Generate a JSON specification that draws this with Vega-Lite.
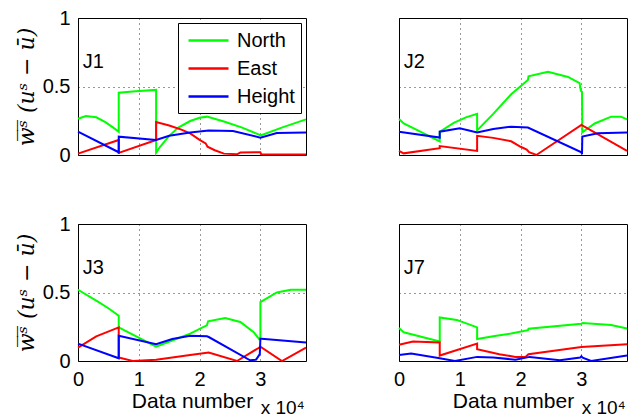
{
"$schema": "https://vega.github.io/schema/vega-lite/v6.json",
"autosize": {"type": "pad"},
"padding": {"left": 14, "top": 7, "right": 0, "bottom": 0},
"background": "white",
"config": {
  "font": "Liberation Sans",
  "view": {"stroke": "black", "strokeWidth": 1},
  "axis": {"domain": false, "ticks": false, "labelFontSize": 20, "labelColor": "black", "labelPadding": 8, "labelFlush": false, "grid": true, "gridDash": [1, 4], "gridColor": "black", "gridOpacity": 0.8, "gridWidth": 1, "titleFontSize": 21, "titleFontWeight": "normal", "titleColor": "black"},
  "text": {"font": "Liberation Sans", "fontSize": 20, "color": "black"}
},
"data": {"values": [
{"p":"J1","s":"North","i":0,"x":0,"y":0.265},{"p":"J1","s":"North","i":1,"x":1300,"y":0.285},{"p":"J1","s":"North","i":2,"x":3000,"y":0.275},{"p":"J1","s":"North","i":3,"x":4500,"y":0.24},{"p":"J1","s":"North","i":4,"x":5800,"y":0.2},{"p":"J1","s":"North","i":5,"x":6700,"y":0.17},{"p":"J1","s":"North","i":6,"x":6700,"y":0.455},{"p":"J1","s":"North","i":7,"x":9500,"y":0.465},{"p":"J1","s":"North","i":8,"x":12850,"y":0.475},{"p":"J1","s":"North","i":9,"x":12850,"y":0.017},{"p":"J1","s":"North","i":10,"x":13500,"y":0.06},{"p":"J1","s":"North","i":11,"x":15000,"y":0.14},{"p":"J1","s":"North","i":12,"x":16500,"y":0.2},{"p":"J1","s":"North","i":13,"x":18450,"y":0.248},{"p":"J1","s":"North","i":14,"x":20000,"y":0.272},{"p":"J1","s":"North","i":15,"x":21200,"y":0.28},{"p":"J1","s":"North","i":16,"x":24000,"y":0.245},{"p":"J1","s":"North","i":17,"x":27000,"y":0.2},{"p":"J1","s":"North","i":18,"x":30000,"y":0.145},{"p":"J1","s":"North","i":19,"x":30150,"y":0.145},{"p":"J1","s":"North","i":20,"x":33500,"y":0.2},{"p":"J1","s":"North","i":21,"x":37500,"y":0.26},
{"p":"J1","s":"East","i":0,"x":0,"y":0.01},{"p":"J1","s":"East","i":1,"x":6700,"y":0.11},{"p":"J1","s":"East","i":2,"x":6700,"y":0.015},{"p":"J1","s":"East","i":3,"x":12850,"y":0.11},{"p":"J1","s":"East","i":4,"x":12850,"y":0.24},{"p":"J1","s":"East","i":5,"x":15000,"y":0.215},{"p":"J1","s":"East","i":6,"x":17000,"y":0.185},{"p":"J1","s":"East","i":7,"x":18450,"y":0.158},{"p":"J1","s":"East","i":8,"x":20000,"y":0.11},{"p":"J1","s":"East","i":9,"x":21000,"y":0.085},{"p":"J1","s":"East","i":10,"x":21300,"y":0.06},{"p":"J1","s":"East","i":11,"x":22500,"y":0.035},{"p":"J1","s":"East","i":12,"x":24000,"y":0.01},{"p":"J1","s":"East","i":13,"x":26150,"y":0.005},{"p":"J1","s":"East","i":14,"x":26700,"y":0.018},{"p":"J1","s":"East","i":15,"x":30000,"y":0.02},{"p":"J1","s":"East","i":16,"x":30150,"y":0.005},{"p":"J1","s":"East","i":17,"x":37500,"y":0.003},
{"p":"J1","s":"Height","i":0,"x":0,"y":0.17},{"p":"J1","s":"Height","i":1,"x":6700,"y":0.02},{"p":"J1","s":"Height","i":2,"x":6700,"y":0.134},{"p":"J1","s":"Height","i":3,"x":12850,"y":0.11},{"p":"J1","s":"Height","i":4,"x":15000,"y":0.14},{"p":"J1","s":"Height","i":5,"x":18450,"y":0.165},{"p":"J1","s":"Height","i":6,"x":21500,"y":0.178},{"p":"J1","s":"Height","i":7,"x":25500,"y":0.175},{"p":"J1","s":"Height","i":8,"x":30000,"y":0.127},{"p":"J1","s":"Height","i":9,"x":32700,"y":0.16},{"p":"J1","s":"Height","i":10,"x":37500,"y":0.165},
{"p":"J2","s":"North","i":0,"x":0,"y":0.263},{"p":"J2","s":"North","i":1,"x":770,"y":0.23},{"p":"J2","s":"North","i":2,"x":3500,"y":0.17},{"p":"J2","s":"North","i":3,"x":6700,"y":0.1},{"p":"J2","s":"North","i":4,"x":6700,"y":0.17},{"p":"J2","s":"North","i":5,"x":9000,"y":0.235},{"p":"J2","s":"North","i":6,"x":11000,"y":0.275},{"p":"J2","s":"North","i":7,"x":12850,"y":0.3},{"p":"J2","s":"North","i":8,"x":12850,"y":0.18},{"p":"J2","s":"North","i":9,"x":15500,"y":0.3},{"p":"J2","s":"North","i":10,"x":18450,"y":0.443},{"p":"J2","s":"North","i":11,"x":21200,"y":0.547},{"p":"J2","s":"North","i":12,"x":21300,"y":0.575},{"p":"J2","s":"North","i":13,"x":24500,"y":0.608},{"p":"J2","s":"North","i":14,"x":27800,"y":0.57},{"p":"J2","s":"North","i":15,"x":29700,"y":0.525},{"p":"J2","s":"North","i":16,"x":29900,"y":0.47},{"p":"J2","s":"North","i":17,"x":30100,"y":0.46},{"p":"J2","s":"North","i":18,"x":30150,"y":0.165},{"p":"J2","s":"North","i":19,"x":32200,"y":0.23},{"p":"J2","s":"North","i":20,"x":34900,"y":0.28},{"p":"J2","s":"North","i":21,"x":36500,"y":0.28},{"p":"J2","s":"North","i":22,"x":37500,"y":0.26},
{"p":"J2","s":"East","i":0,"x":0,"y":0.03},{"p":"J2","s":"East","i":1,"x":770,"y":0.012},{"p":"J2","s":"East","i":2,"x":6700,"y":0.05},{"p":"J2","s":"East","i":3,"x":6700,"y":0.065},{"p":"J2","s":"East","i":4,"x":12850,"y":0.03},{"p":"J2","s":"East","i":5,"x":12850,"y":0.14},{"p":"J2","s":"East","i":6,"x":15500,"y":0.125},{"p":"J2","s":"East","i":7,"x":18450,"y":0.1},{"p":"J2","s":"East","i":8,"x":20000,"y":0.06},{"p":"J2","s":"East","i":9,"x":21000,"y":0.04},{"p":"J2","s":"East","i":10,"x":21400,"y":0.02},{"p":"J2","s":"East","i":11,"x":22600,"y":0.0},{"p":"J2","s":"East","i":12,"x":30000,"y":0.22},{"p":"J2","s":"East","i":13,"x":37500,"y":0.03},
{"p":"J2","s":"Height","i":0,"x":0,"y":0.17},{"p":"J2","s":"Height","i":1,"x":6700,"y":0.127},{"p":"J2","s":"Height","i":2,"x":6700,"y":0.17},{"p":"J2","s":"Height","i":3,"x":10000,"y":0.195},{"p":"J2","s":"Height","i":4,"x":12850,"y":0.165},{"p":"J2","s":"Height","i":5,"x":15500,"y":0.19},{"p":"J2","s":"Height","i":6,"x":18450,"y":0.207},{"p":"J2","s":"Height","i":7,"x":21200,"y":0.2},{"p":"J2","s":"Height","i":8,"x":30000,"y":0.02},{"p":"J2","s":"Height","i":9,"x":30100,"y":0.005},{"p":"J2","s":"Height","i":10,"x":30150,"y":0.134},{"p":"J2","s":"Height","i":11,"x":32700,"y":0.158},{"p":"J2","s":"Height","i":12,"x":37500,"y":0.165},
{"p":"J3","s":"North","i":0,"x":0,"y":0.52},{"p":"J3","s":"North","i":1,"x":3000,"y":0.44},{"p":"J3","s":"North","i":2,"x":5000,"y":0.385},{"p":"J3","s":"North","i":3,"x":6700,"y":0.33},{"p":"J3","s":"North","i":4,"x":6700,"y":0.245},{"p":"J3","s":"North","i":5,"x":12850,"y":0.105},{"p":"J3","s":"North","i":6,"x":15500,"y":0.15},{"p":"J3","s":"North","i":7,"x":18450,"y":0.2},{"p":"J3","s":"North","i":8,"x":20500,"y":0.245},{"p":"J3","s":"North","i":9,"x":21200,"y":0.26},{"p":"J3","s":"North","i":10,"x":21400,"y":0.29},{"p":"J3","s":"North","i":11,"x":24200,"y":0.314},{"p":"J3","s":"North","i":12,"x":26700,"y":0.285},{"p":"J3","s":"North","i":13,"x":28900,"y":0.21},{"p":"J3","s":"North","i":14,"x":29800,"y":0.16},{"p":"J3","s":"North","i":15,"x":30000,"y":0.17},{"p":"J3","s":"North","i":16,"x":30000,"y":0.43},{"p":"J3","s":"North","i":17,"x":32700,"y":0.5},{"p":"J3","s":"North","i":18,"x":35000,"y":0.52},{"p":"J3","s":"North","i":19,"x":37500,"y":0.52},
{"p":"J3","s":"East","i":0,"x":0,"y":0.098},{"p":"J3","s":"East","i":1,"x":3000,"y":0.18},{"p":"J3","s":"East","i":2,"x":6700,"y":0.245},{"p":"J3","s":"East","i":3,"x":6700,"y":0.025},{"p":"J3","s":"East","i":4,"x":9000,"y":0.0},{"p":"J3","s":"East","i":5,"x":12850,"y":0.01},{"p":"J3","s":"East","i":6,"x":18450,"y":0.044},{"p":"J3","s":"East","i":7,"x":21500,"y":0.062},{"p":"J3","s":"East","i":8,"x":26150,"y":0.0},{"p":"J3","s":"East","i":9,"x":29700,"y":0.095},{"p":"J3","s":"East","i":10,"x":30000,"y":0.105},{"p":"J3","s":"East","i":11,"x":33550,"y":0.0},{"p":"J3","s":"East","i":12,"x":37500,"y":0.098},
{"p":"J3","s":"Height","i":0,"x":0,"y":0.127},{"p":"J3","s":"Height","i":1,"x":6700,"y":0.02},{"p":"J3","s":"Height","i":2,"x":6700,"y":0.184},{"p":"J3","s":"Height","i":3,"x":12850,"y":0.122},{"p":"J3","s":"Height","i":4,"x":15500,"y":0.16},{"p":"J3","s":"Height","i":5,"x":18450,"y":0.184},{"p":"J3","s":"Height","i":6,"x":21200,"y":0.18},{"p":"J3","s":"Height","i":7,"x":21500,"y":0.175},{"p":"J3","s":"Height","i":8,"x":28300,"y":0.005},{"p":"J3","s":"Height","i":9,"x":29300,"y":0.01},{"p":"J3","s":"Height","i":10,"x":29900,"y":0.05},{"p":"J3","s":"Height","i":11,"x":30000,"y":0.162},{"p":"J3","s":"Height","i":12,"x":30200,"y":0.162},{"p":"J3","s":"Height","i":13,"x":37500,"y":0.135},
{"p":"J7","s":"North","i":0,"x":0,"y":0.24},{"p":"J7","s":"North","i":1,"x":770,"y":0.21},{"p":"J7","s":"North","i":2,"x":6700,"y":0.142},{"p":"J7","s":"North","i":3,"x":6700,"y":0.318},{"p":"J7","s":"North","i":4,"x":9500,"y":0.3},{"p":"J7","s":"North","i":5,"x":12850,"y":0.245},{"p":"J7","s":"North","i":6,"x":12850,"y":0.16},{"p":"J7","s":"North","i":7,"x":16000,"y":0.185},{"p":"J7","s":"North","i":8,"x":18450,"y":0.2},{"p":"J7","s":"North","i":9,"x":21200,"y":0.225},{"p":"J7","s":"North","i":10,"x":21300,"y":0.235},{"p":"J7","s":"North","i":11,"x":30000,"y":0.272},{"p":"J7","s":"North","i":12,"x":30200,"y":0.278},{"p":"J7","s":"North","i":13,"x":34900,"y":0.262},{"p":"J7","s":"North","i":14,"x":37500,"y":0.237},
{"p":"J7","s":"East","i":0,"x":0,"y":0.118},{"p":"J7","s":"East","i":1,"x":2300,"y":0.142},{"p":"J7","s":"East","i":2,"x":6700,"y":0.135},{"p":"J7","s":"East","i":3,"x":6700,"y":0.04},{"p":"J7","s":"East","i":4,"x":12850,"y":0.127},{"p":"J7","s":"East","i":5,"x":12850,"y":0.086},{"p":"J7","s":"East","i":6,"x":16500,"y":0.05},{"p":"J7","s":"East","i":7,"x":19150,"y":0.03},{"p":"J7","s":"East","i":8,"x":20800,"y":0.03},{"p":"J7","s":"East","i":9,"x":21300,"y":0.05},{"p":"J7","s":"East","i":10,"x":30000,"y":0.103},{"p":"J7","s":"East","i":11,"x":37500,"y":0.122},
{"p":"J7","s":"Height","i":0,"x":0,"y":0.044},{"p":"J7","s":"Height","i":1,"x":2000,"y":0.054},{"p":"J7","s":"Height","i":2,"x":6700,"y":0.02},{"p":"J7","s":"Height","i":3,"x":9200,"y":0.0},{"p":"J7","s":"Height","i":4,"x":12850,"y":0.03},{"p":"J7","s":"Height","i":5,"x":15500,"y":0.025},{"p":"J7","s":"Height","i":6,"x":19150,"y":0.01},{"p":"J7","s":"Height","i":7,"x":21500,"y":0.03},{"p":"J7","s":"Height","i":8,"x":26450,"y":0.005},{"p":"J7","s":"Height","i":9,"x":29800,"y":0.025},{"p":"J7","s":"Height","i":10,"x":30000,"y":0.035},{"p":"J7","s":"Height","i":11,"x":30200,"y":0.025},{"p":"J7","s":"Height","i":12,"x":31600,"y":0.0},{"p":"J7","s":"Height","i":13,"x":37500,"y":0.04}
]},
"columns": 2,
"spacing": {"row": 69, "column": 93},
"bounds": "flush",
"resolve": {"scale": {"color": "independent"}, "legend": {"color": "independent"}},
"concat": [
{
  "width": 228, "height": 137,
  "layer": [
    {"transform": [{"filter": "datum.p === 'J1'"}],
     "mark": {"type": "line", "strokeWidth": 2},
     "encoding": {
       "x": {"field": "x", "type": "quantitative", "scale": {"domain": [0, 37500], "nice": false}, "axis": {"values": [0, 10000, 20000, 30000], "labels": false, "title": null}},
       "y": {"field": "y", "type": "quantitative", "scale": {"domain": [0, 1], "nice": false}, "axis": {"values": [0, 0.5, 1], "labelExpr": "datum.value + ''", "title": "w̅ˢ̅ (uˢ − ū)", "titleFont": "DejaVu Serif", "titleFontStyle": "italic", "titleFontSize": 22, "titlePadding": 4}},
       "color": {"field": "s", "type": "nominal", "scale": {"domain": ["North", "East", "Height"], "range": ["#00ff00", "#ff0000", "#0000ff"]},
         "legend": {"orient": "top-right", "offset": 5, "title": null, "symbolType": "M-0.7,0H3.3", "symbolStrokeWidth": 2.5, "symbolSize": 400, "labelFontSize": 20, "labelFont": "Liberation Sans", "labelColor": "black", "strokeColor": "black", "fillColor": "white", "padding": 6, "rowPadding": 6, "labelOffset": 30}},
       "order": {"field": "i", "type": "quantitative"}
     }},
    {"data": {"values": [{"t": "J1"}]},
     "mark": {"type": "text", "align": "left", "baseline": "alphabetic"},
     "encoding": {"x": {"datum": 800, "type": "quantitative"}, "y": {"datum": 0.635, "type": "quantitative"}, "text": {"field": "t"}}}
  ]
},
{
  "width": 228, "height": 137,
  "layer": [
    {"transform": [{"filter": "datum.p === 'J2'"}],
     "mark": {"type": "line", "strokeWidth": 2},
     "encoding": {
       "x": {"field": "x", "type": "quantitative", "scale": {"domain": [0, 37500], "nice": false}, "axis": {"values": [0, 10000, 20000, 30000], "labels": false, "title": null}},
       "y": {"field": "y", "type": "quantitative", "scale": {"domain": [0, 1], "nice": false}, "axis": {"values": [0, 0.5, 1], "labels": false, "title": null}},
       "color": {"field": "s", "type": "nominal", "scale": {"domain": ["North", "East", "Height"], "range": ["#00ff00", "#ff0000", "#0000ff"]}, "legend": null},
       "order": {"field": "i", "type": "quantitative"}
     }},
    {"data": {"values": [{"t": "J2"}]},
     "mark": {"type": "text", "align": "left", "baseline": "alphabetic"},
     "encoding": {"x": {"datum": 800, "type": "quantitative"}, "y": {"datum": 0.635, "type": "quantitative"}, "text": {"field": "t"}}}
  ]
},
{
  "width": 228, "height": 137,
  "layer": [
    {"transform": [{"filter": "datum.p === 'J3'"}],
     "mark": {"type": "line", "strokeWidth": 2},
     "encoding": {
       "x": {"field": "x", "type": "quantitative", "scale": {"domain": [0, 37500], "nice": false}, "axis": {"values": [0, 10000, 20000, 30000], "labelExpr": "datum.value / 10000 + ''", "title": "Data number", "titlePadding": 1}},
       "y": {"field": "y", "type": "quantitative", "scale": {"domain": [0, 1], "nice": false}, "axis": {"values": [0, 0.5, 1], "labelExpr": "datum.value + ''", "title": "w̅ˢ̅ (uˢ − ū)", "titleFont": "DejaVu Serif", "titleFontStyle": "italic", "titleFontSize": 22, "titlePadding": 4}},
       "color": {"field": "s", "type": "nominal", "scale": {"domain": ["North", "East", "Height"], "range": ["#00ff00", "#ff0000", "#0000ff"]}, "legend": null},
       "order": {"field": "i", "type": "quantitative"}
     }},
    {"data": {"values": [{"t": "J3"}]},
     "mark": {"type": "text", "align": "left", "baseline": "alphabetic"},
     "encoding": {"x": {"datum": 800, "type": "quantitative"}, "y": {"datum": 0.635, "type": "quantitative"}, "text": {"field": "t"}}},
    {"data": {"values": [{"t": "x 10⁴"}]},
     "mark": {"type": "text", "align": "right", "baseline": "alphabetic", "fontSize": 19},
     "encoding": {"x": {"datum": 37300, "type": "quantitative"}, "y": {"datum": -0.39, "type": "quantitative"}, "text": {"field": "t"}}}
  ]
},
{
  "width": 228, "height": 137,
  "layer": [
    {"transform": [{"filter": "datum.p === 'J7'"}],
     "mark": {"type": "line", "strokeWidth": 2},
     "encoding": {
       "x": {"field": "x", "type": "quantitative", "scale": {"domain": [0, 37500], "nice": false}, "axis": {"values": [0, 10000, 20000, 30000], "labelExpr": "datum.value / 10000 + ''", "title": "Data number", "titlePadding": 1}},
       "y": {"field": "y", "type": "quantitative", "scale": {"domain": [0, 1], "nice": false}, "axis": {"values": [0, 0.5, 1], "labels": false, "title": null}},
       "color": {"field": "s", "type": "nominal", "scale": {"domain": ["North", "East", "Height"], "range": ["#00ff00", "#ff0000", "#0000ff"]}, "legend": null},
       "order": {"field": "i", "type": "quantitative"}
     }},
    {"data": {"values": [{"t": "J7"}]},
     "mark": {"type": "text", "align": "left", "baseline": "alphabetic"},
     "encoding": {"x": {"datum": 800, "type": "quantitative"}, "y": {"datum": 0.635, "type": "quantitative"}, "text": {"field": "t"}}},
    {"data": {"values": [{"t": "x 10⁴"}]},
     "mark": {"type": "text", "align": "right", "baseline": "alphabetic", "fontSize": 19},
     "encoding": {"x": {"datum": 37300, "type": "quantitative"}, "y": {"datum": -0.39, "type": "quantitative"}, "text": {"field": "t"}}}
  ]
}
]
}
